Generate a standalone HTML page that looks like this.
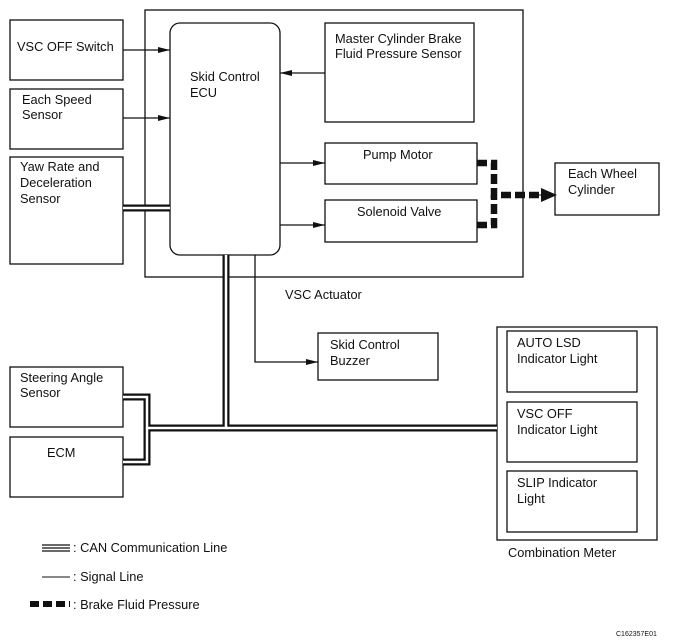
<!DOCTYPE html>
<html><head><style>
body{margin:0;background:#fff}
svg{display:block}
text{font-family:"Liberation Sans",Arial,sans-serif;font-size:12.8px;fill:#111}
</style></head><body>
<svg width="674" height="642" viewBox="0 0 674 642">
<defs><marker id="a" markerWidth="12" markerHeight="8" refX="12" refY="4" orient="auto" markerUnits="userSpaceOnUse"><path d="M0,1 L12,4 L0,7 Z" fill="#111"/></marker>
<marker id="b" markerWidth="16" markerHeight="14" refX="14" refY="7" orient="auto" markerUnits="userSpaceOnUse"><path d="M0,0 L16,7 L0,14 Z" fill="#111"/></marker></defs>
<g fill="none" stroke="#111" stroke-width="1.3">
<rect x="145" y="10" width="378" height="267"/>
<rect x="170" y="23" width="110" height="232" rx="10"/>
<rect x="10" y="20" width="113" height="60"/>
<rect x="10" y="89" width="113" height="60"/>
<rect x="10" y="157" width="113" height="107"/>
<rect x="325" y="23" width="149" height="99"/>
<rect x="325" y="143" width="152" height="41"/>
<rect x="325" y="200" width="152" height="42"/>
<rect x="555" y="163" width="104" height="52"/>
<rect x="318" y="333" width="120" height="47"/>
<rect x="497" y="327" width="160" height="213"/>
<rect x="507" y="331" width="130" height="61"/>
<rect x="507" y="402" width="130" height="60"/>
<rect x="507" y="471" width="130" height="61"/>
<rect x="10" y="367" width="113" height="60"/>
<rect x="10" y="437" width="113" height="60"/>
<line x1="123" y1="50" x2="170" y2="50" marker-end="url(#a)"/>
<line x1="123" y1="118" x2="170" y2="118" marker-end="url(#a)"/>
<line x1="325" y1="73" x2="280" y2="73" marker-end="url(#a)"/>
<line x1="280" y1="163" x2="325" y2="163" marker-end="url(#a)"/>
<line x1="280" y1="225" x2="325" y2="225" marker-end="url(#a)"/>
<polyline points="255,255 255,362 318,362" marker-end="url(#a)"/>
</g>
<g fill="none" stroke-linejoin="miter">
<g stroke="#111" stroke-width="7">
<line x1="123" y1="208" x2="170" y2="208"/>
<polyline points="226,255 226,428 147,428 147,397 123,397"/>
<polyline points="226,428 497,428"/>
<polyline points="147,428 147,462 123,462"/>
</g>
<g stroke="#fff" stroke-width="2.5">
<line x1="123" y1="208" x2="170" y2="208"/>
<polyline points="226,255 226,428 147,428 147,397 123,397"/>
<polyline points="226,428 497,428"/>
<polyline points="147,428 147,462 123,462"/>
</g>
</g>
<g fill="none" stroke="#111" stroke-width="6.5" stroke-dasharray="10,4">
<polyline points="477,163 494,163 494,195 540,195"/>
<polyline points="477,225 494,225 494,195"/>
</g>
<line x1="530" y1="195" x2="555" y2="195" stroke="#111" stroke-width="1" marker-end="url(#b)"/>
<text x="17" y="51">VSC OFF Switch</text>
<text x="22" y="104">Each Speed</text><text x="22" y="119">Sensor</text>
<text x="20" y="171">Yaw Rate and</text><text x="20" y="187">Deceleration</text><text x="20" y="203">Sensor</text>
<text x="190" y="81">Skid Control</text><text x="190" y="97">ECU</text>
<text x="335" y="43">Master Cylinder Brake</text><text x="335" y="58">Fluid Pressure Sensor</text>
<text x="363" y="159">Pump Motor</text>
<text x="357" y="216">Solenoid Valve</text>
<text x="568" y="178">Each Wheel</text><text x="568" y="194">Cylinder</text>
<text x="285" y="299">VSC Actuator</text>
<text x="330" y="349">Skid Control</text><text x="330" y="365">Buzzer</text>
<text x="517" y="347">AUTO LSD</text><text x="517" y="363">Indicator Light</text>
<text x="517" y="418">VSC OFF</text><text x="517" y="434">Indicator Light</text>
<text x="517" y="487">SLIP Indicator</text><text x="517" y="503">Light</text>
<text x="508" y="557">Combination Meter</text>
<text x="20" y="382">Steering Angle</text><text x="20" y="397">Sensor</text>
<text x="47" y="457">ECM</text>
<g stroke="#111" stroke-width="1.2"><line x1="42" y1="545" x2="70" y2="545"/><line x1="42" y1="548" x2="70" y2="548"/><line x1="42" y1="551" x2="70" y2="551"/></g>
<text x="73" y="552">:  CAN Communication Line</text>
<line x1="42" y1="577" x2="70" y2="577" stroke="#111" stroke-width="1"/>
<text x="73" y="581">:  Signal Line</text>
<line x1="30" y1="604" x2="70" y2="604" stroke="#111" stroke-width="6" stroke-dasharray="9,4"/>
<text x="73" y="609">:  Brake Fluid Pressure</text>
<text x="616" y="636" style="font-size:7px">C162357E01</text>
</svg>
</body></html>
